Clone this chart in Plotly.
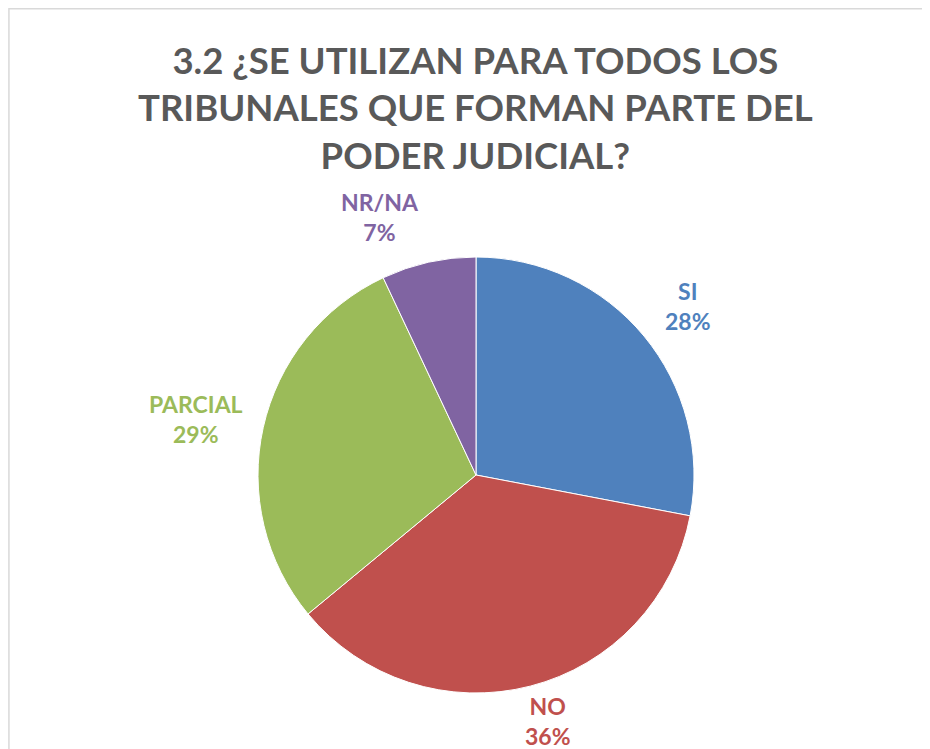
import plotly.graph_objects as go

labels = ["SI", "NO", "PARCIAL", "NR/NA"]
values = [28, 36, 29, 7]
colors = ["#4F81BD", "#C0504D", "#9BBB59", "#8064A2"]
label_pos = [(680, 298), (540, 713), (188, 411), (372, 209)]  # pixel centres of label blocks (figure coords)

W, H = 930, 749
cx, cy, r = 468, 467, 218
fig = go.Figure()
fig.add_trace(go.Pie(
    labels=labels, values=values, sort=False, direction="clockwise", rotation=0,
    marker=dict(colors=colors, line=dict(color="white", width=1)),
    textinfo="none", hoverinfo="label+percent", showlegend=False,
    domain=dict(x=[(cx - r) / W, (cx + r) / W], y=[1 - (cy + r) / H, 1 - (cy - r) / H]),
))

annotations = [dict(
    x=468 / W, y=1 - 28 / H, xref="paper", yref="paper",
    text="3.2 ¿SE UTILIZAN PARA TODOS LOS<br>TRIBUNALES QUE FORMAN PARTE DEL<br>PODER JUDICIAL?",
    showarrow=False, align="center", xanchor="center", yanchor="top",
    font=dict(family="Lato", size=36.5, color="#595959", weight="bold"),
)]
for lab, v, c, (px, py) in zip(labels, values, colors, label_pos):
    annotations.append(dict(
        x=px / W, y=1 - py / H, xref="paper", yref="paper",
        text=f"{lab}<br>{v}%", showarrow=False, align="center",
        font=dict(family="Lato", size=23, color=c, weight="bold"),
        xanchor="center", yanchor="middle",
    ))

fig.update_layout(
    width=W, height=H, margin=dict(l=0, r=0, t=0, b=0),
    paper_bgcolor="white", plot_bgcolor="white",
    annotations=annotations,
    shapes=[dict(type="rect", xref="paper", yref="paper",
                 x0=0.001, x1=1.05, y0=-0.05, y1=0.999,
                 line=dict(color="#D9D9D9", width=1.5))],
)
fig.write_html("out.html")
